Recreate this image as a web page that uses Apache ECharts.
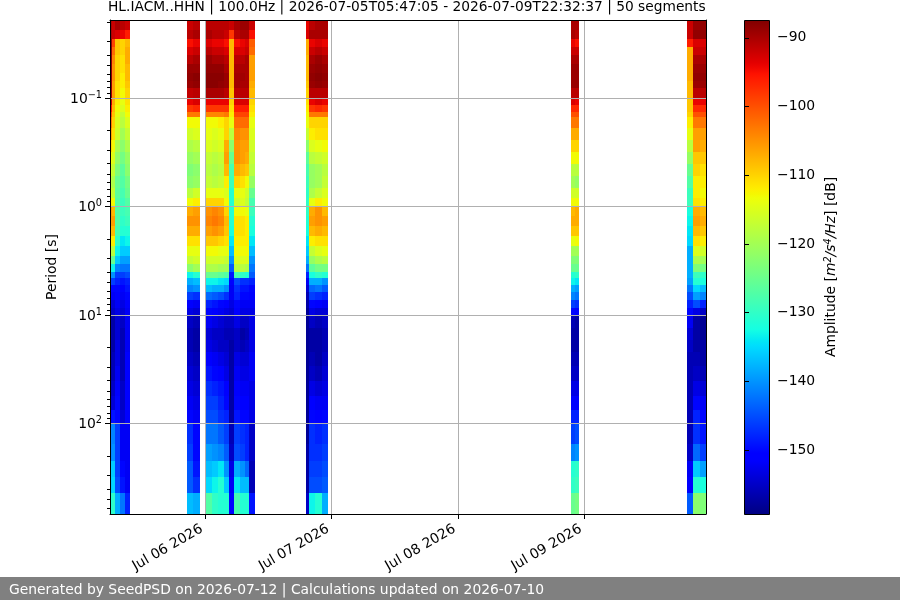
<!DOCTYPE html>
<html>
<head>
<meta charset="utf-8">
<style>html,body{margin:0;padding:0;background:#fff}#chart{width:900px;height:600px}</style>
<script src="https://cdn.jsdelivr.net/npm/echarts@6/dist/echarts.min.js"></script>
</head>
<body>
<div id="chart"></div>
<script>
// Spectrogram of probabilistic PSD segments for one seismic channel.
const titleText = 'HL.IACM..HHN | 100.0Hz | 2026-07-05T05:47:05 - 2026-07-09T22:32:37 | 50 segments';
const footerText = 'Generated by SeedPSD on 2026-07-12 | Calculations updated on 2026-07-10';
const timeMin = '2026-07-05T05:54:00Z';
const timeMax = '2026-07-09T23:07:00Z';
const periodMin = 0.0191;
const periodMax = 682;
const dbMin = -159.3;
const dbMax = -87.4;

const dayTicks = ['2026-07-06T00:00:00Z', '2026-07-07T00:00:00Z', '2026-07-08T00:00:00Z', '2026-07-09T00:00:00Z'];
const periodTicks = [0.1, 1, 10, 100];
const dbTicks = [-150, -140, -130, -120, -110, -100, -90];

// Period bin edges in seconds, shortest first (one more edge than there are bins).
const periodEdges = [
  0.0191, 0.0236, 0.0286, 0.0339, 0.0402, 0.0486, 0.0589, 0.0697, 0.0809, 0.1,
  0.116, 0.135, 0.150, 0.189, 0.244, 0.315, 0.406, 0.524, 0.675, 0.835,
  0.99, 1.22, 1.51, 1.87, 2.31, 2.86, 3.39, 4.02, 4.56, 5.29,
  6.14, 7.28, 8.62, 10.2, 13.2, 17.0, 21.9, 29.5, 40.6, 55.8,
  75.2, 100, 155, 222, 311, 437, 682
];

// Time span of each column, as start/end pairs (UTC, minutes precision).
const columnSpans = [
  ['2026-07-05T05:54', '2026-07-05T06:17'], ['2026-07-05T06:17', '2026-07-05T06:51'],
  ['2026-07-05T06:51', '2026-07-05T07:48'], ['2026-07-05T07:48', '2026-07-05T08:45'],
  ['2026-07-05T08:45', '2026-07-05T09:42'],
  ['2026-07-05T20:32', '2026-07-05T21:40'], ['2026-07-05T21:40', '2026-07-05T23:00'],
  ['2026-07-06T00:08', '2026-07-06T01:17'], ['2026-07-06T01:17', '2026-07-06T02:25'],
  ['2026-07-06T02:25', '2026-07-06T03:34'], ['2026-07-06T03:34', '2026-07-06T04:30'],
  ['2026-07-06T04:30', '2026-07-06T05:27'], ['2026-07-06T05:27', '2026-07-06T06:36'],
  ['2026-07-06T06:36', '2026-07-06T07:33'], ['2026-07-06T07:33', '2026-07-06T08:18'],
  ['2026-07-06T08:18', '2026-07-06T09:27'],
  ['2026-07-06T19:08', '2026-07-06T19:42'], ['2026-07-06T19:42', '2026-07-06T20:50'],
  ['2026-07-06T20:50', '2026-07-06T22:10'], ['2026-07-06T22:10', '2026-07-06T23:19'],
  ['2026-07-08T21:29', '2026-07-08T22:14'], ['2026-07-08T22:14', '2026-07-08T23:00'],
  ['2026-07-09T19:30', '2026-07-09T20:39'], ['2026-07-09T20:39', '2026-07-09T21:59'],
  ['2026-07-09T21:59', '2026-07-09T23:07']
];

// Amplitude in dB for each column, one value per period bin.
const amplitudes = [
  [-90,-90,-89,-89,-89,-89,-89,-89,-90,-92,-96,-100,-103,-106,-110,-113,-116,-118,-116,-112,-106,-106,-108,-112,-118,-125,-133,-140,-146,-150,-152,-154,-155,-157,-157,-157,-157,-157,-156,-155,-150,-141,-141,-136,-136,-131],
  [-92,-92,-99,-102,-104,-105,-105,-106,-106,-107,-108,-109,-110,-111,-113,-115,-117,-119,-117,-113,-108,-106,-108,-112,-118,-125,-133,-140,-146,-150,-152,-154,-155,-157,-157,-157,-156,-156,-155,-154,-149,-141,-140,-136,-135,-130],
  [-90,-93,-109,-109,-110,-110,-110,-111,-111,-112,-113,-114,-115,-116,-119,-121,-123,-125,-126,-127,-127,-127,-128,-130,-133,-136,-141,-146,-148,-150,-151,-152,-153,-154,-154,-153,-153,-152,-151,-150,-150,-146,-146,-146,-145,-138],
  [-91,-94,-110,-110,-111,-111,-112,-112,-113,-114,-115,-117,-118,-120,-122,-124,-126,-127,-128,-129,-129,-130,-131,-134,-136,-139,-142,-146,-149,-151,-152,-153,-154,-155,-156,-156,-156,-156,-155,-155,-154,-152,-152,-150,-149,-142],
  [-92,-96,-108,-107,-107,-108,-108,-109,-110,-111,-112,-113,-115,-117,-119,-121,-122,-124,-125,-127,-128,-129,-131,-133,-136,-139,-142,-145,-148,-149,-150,-151,-152,-152,-152,-152,-151,-151,-151,-151,-151,-152,-152,-152,-152,-148],

  [-92,-91,-95,-93,-91,-89,-88.5,-89,-91.5,-94,-98,-103,-113,-116,-119,-121,-123,-122,-118,-113,-107,-105,-107,-111,-114,-117,-122,-133,-138,-141,-146,-151,-153,-155,-156,-156,-155,-154,-153,-152,-150,-147,-146,-144,-144,-137],
  [-91,-90,-94,-92,-90,-89,-88,-88.5,-91,-93,-97,-103,-113,-115,-118,-120,-122,-121,-116,-112,-106,-105,-107,-111,-114,-116,-120,-131,-137,-140,-147,-152,-154,-156,-157,-157,-156,-155,-154,-153,-152,-150,-150,-149,-147,-138],

  [-91,-90,-93,-91,-89,-88.5,-88,-88,-90,-94,-98,-104,-113,-114,-115,-117,-118,-117,-114,-110,-105,-104,-106,-109,-113,-116,-119,-125,-133,-137,-143,-148,-150,-152,-154,-153,-151,-149,-147,-146,-145,-142,-139,-137,-135,-127],
  [-91,-91,-94,-92,-90,-88.5,-88,-88,-90,-94,-98,-104,-113,-115,-116,-118,-119,-118,-114,-110,-104,-103,-105,-109,-113,-116,-119,-125,-133,-138,-144,-149,-151,-153,-155,-154,-152,-150,-148,-146,-145,-142,-140,-136,-133,-130],
  [-91,-91,-94,-92,-90,-88.5,-88,-88.5,-90,-94,-98,-104,-112,-114,-115,-117,-118,-117,-114,-110,-105,-104,-106,-110,-114,-116,-120,-126,-134,-138,-145,-150,-152,-154,-155,-155,-153,-151,-149,-148,-147,-144,-141,-134,-131,-131],
  [-91,-92,-95,-93,-91,-90,-89,-89,-91,-94,-98,-103,-110,-110,-107,-106,-108,-112,-115,-113,-110,-108,-109,-111,-114,-117,-120,-127,-135,-140,-147,-151,-153,-155,-156,-155,-154,-153,-151,-150,-148,-146,-144,-140,-136,-131],
  [-92,-98,-108,-108,-108,-108,-108,-108,-109,-110,-111,-112,-114,-118,-122,-125,-128,-129,-131,-131,-131,-131,-132,-134,-137,-140,-144,-149,-151,-152,-152,-153,-154,-155,-156,-157,-157,-157,-157,-157,-157,-156,-155,-153,-152,-150],
  [-90,-91,-95,-93,-91,-90,-89.5,-89.5,-91,-93,-96,-99,-102,-104,-105,-105,-107,-110,-114,-116,-113,-111,-111,-112,-113,-115,-118,-128,-145,-147,-148,-150,-151,-153,-155,-155,-153,-152,-151,-150,-149,-146,-145,-138,-134,-128],
  [-89,-90,-94,-93,-91,-90,-89.5,-90,-91,-93,-96,-99,-102,-105,-106,-106,-108,-111,-114,-115,-113,-111,-111,-112,-113,-115,-118,-130,-147,-149,-150,-152,-153,-155,-157,-156,-154,-153,-152,-151,-150,-147,-146,-140,-137,-131],
  [-89,-90,-93,-92,-90,-90,-90,-90,-91,-93,-96,-99,-102,-105,-106,-107,-109,-113,-116,-117,-114,-112,-112,-112,-113,-115,-119,-131,-147,-149,-150,-152,-153,-155,-156,-155,-154,-153,-152,-151,-150,-148,-148,-143,-137,-131],
  [-92,-95,-101,-102,-106,-106,-106,-107,-108,-110,-111,-112,-114,-115,-116,-117,-118,-121,-125,-128,-129,-131,-132,-134,-137,-140,-142,-144,-148,-150,-151,-152,-153,-153,-153,-153,-152,-152,-153,-153,-153,-155,-155,-156,-156,-149],

  [-94,-93,-107,-107,-108,-108,-108,-109,-110,-111,-112,-113,-114,-117,-122,-126,-128,-129,-130,-130,-130,-131,-132,-134,-136,-138,-142,-148,-152,-154,-156,-157,-158,-158,-158,-158,-158,-158,-158,-158,-158,-158,-157,-157,-157,-155],
  [-91,-90,-94,-92,-90,-89,-88.5,-89,-91,-94,-98,-103,-110,-112,-115,-118,-121,-121,-119,-114,-107,-106,-108,-112,-117,-121,-126,-132,-138,-143,-146,-150,-153,-155,-157,-157,-156,-155,-153,-151,-150,-147,-147,-146,-145,-133],
  [-90,-90,-93,-91,-89,-88.5,-88,-88.5,-91,-93,-97,-103,-110,-111,-114,-117,-120,-120,-117,-112,-105,-105,-107,-111,-115,-119,-124,-130,-138,-142,-147,-151,-154,-156,-157,-157,-157,-156,-154,-152,-151,-148,-147,-146,-145,-131],
  [-90,-90,-94,-92,-90,-89,-88.5,-89,-91,-94,-98,-103,-110,-111,-113,-116,-118,-117,-115,-113,-108,-106,-108,-111,-114,-118,-124,-131,-140,-144,-148,-152,-154,-155,-156,-156,-155,-154,-153,-152,-150,-147,-146,-145,-144,-138],

  [-90,-90,-94,-92,-90,-89,-89,-89,-91,-93,-97,-100,-103,-107,-110,-113,-118,-120,-116,-113,-108,-107,-109,-114,-120,-123,-125,-131,-133,-138,-141,-146,-150,-156,-157,-157,-156,-155,-153,-151,-148,-146,-141,-131,-130,-125],
  [-90,-91,-95,-92,-90,-89,-89,-89,-91,-94,-97,-100,-103,-107,-110,-113,-118,-121,-116,-113,-107,-107,-109,-113,-120,-123,-125,-130,-134,-139,-142,-147,-151,-157,-157,-157,-156,-155,-153,-151,-148,-145,-140,-130,-129,-124],

  [-92,-92,-96,-107,-107,-107,-107,-108,-108,-109,-109,-110,-112,-114,-118,-121,-125,-127,-129,-129,-132,-133,-134,-135,-138,-138,-138,-138,-139,-142,-145,-148,-150,-152,-154,-155,-156,-156,-156,-156,-156,-156,-155,-152,-151,-144],
  [-89,-88.5,-93,-92,-90,-89,-88.5,-89,-91,-94,-97,-100,-103,-106,-106,-109,-110,-112,-112,-111,-107,-106,-108,-111,-115,-119,-123,-129,-131,-135,-139,-145,-153,-157,-157,-157,-156,-155,-153,-150,-148,-147,-143,-136,-131,-122],
  [-88.5,-88.5,-93,-92,-90,-89,-88.5,-89,-91,-94,-97,-100,-103,-106,-107,-109,-111,-112,-113,-112,-108,-107,-109,-112,-116,-120,-124,-130,-132,-137,-141,-148,-155,-158,-158,-157,-157,-156,-154,-152,-150,-149,-146,-139,-132,-123]
];

// Jet colormap, evaluated from its piecewise-linear channel definition.
const jetR = [[0, 0], [0.35, 0], [0.66, 1], [0.89, 1], [1, 0.5]];
const jetG = [[0, 0], [0.125, 0], [0.375, 1], [0.64, 1], [0.91, 0], [1, 0]];
const jetB = [[0, 0.5], [0.11, 1], [0.34, 1], [0.65, 0], [1, 0]];
function channel(table, t) {
  for (let i = 1; i < table.length; i++) {
    if (t <= table[i][0]) {
      const [a, va] = table[i - 1], [b, vb] = table[i];
      return va + (vb - va) * (t - a) / (b - a);
    }
  }
  return table[table.length - 1][1];
}
function jet(t) {
  const c = [jetR, jetG, jetB].map(tb => Math.round(255 * channel(tb, t)));
  return 'rgb(' + c.join(',') + ')';
}
const jetSteps = Array.from({ length: 129 }, (_, i) => i / 128);
const jetColors = jetSteps.map(jet);

const cells = [];
amplitudes.forEach((col, c) => {
  const t0 = Date.parse(columnSpans[c][0] + ':00Z');
  const t1 = Date.parse(columnSpans[c][1] + ':00Z');
  col.forEach((db, r) => cells.push([t0, t1, periodEdges[r], periodEdges[r + 1], db]));
});

const periodMinor = [];
for (let e = -2; e <= 2; e++) {
  for (let m = 2; m <= 9; m++) {
    const v = m * Math.pow(10, e);
    if (v > periodMin && v < periodMax) periodMinor.push(v);
  }
}

function renderCell(params, api) {
  const a = api.coord([api.value(0), api.value(2)]);
  const b = api.coord([api.value(1), api.value(3)]);
  const x = Math.round(a[0]), y = Math.round(a[1]);
  return {
    type: 'rect',
    shape: { x, y, width: Math.round(b[0]) - x, height: Math.round(b[1]) - y },
    style: { fill: api.visual('color'), stroke: null }
  };
}

function renderColorbar(params, api) {
  const a = api.coord([0, dbMax]);
  const b = api.coord([1, dbMin]);
  return {
    type: 'rect',
    shape: { x: Math.round(a[0]) + 0.5, y: Math.round(a[1]) + 0.5, width: Math.round(b[0] - a[0]), height: Math.round(b[1] - a[1]) },
    style: {
      stroke: '#000', lineWidth: 1,
      fill: {
        type: 'linear', x: 0, y: 0, x2: 0, y2: 1,
        colorStops: jetSteps.map((t, i) => ({ offset: 1 - t, color: jetColors[i] })).reverse()
      }
    }
  };
}

const baseFont = { fontFamily: 'DejaVu Sans', fontSize: 13.9, color: '#000' };
const gridLine = { show: true, lineStyle: { color: '#b0b0b0', width: 1 } };
const blackLine = { show: true, lineStyle: { color: '#000', width: 1 } };
const monthNames = ['Jan', 'Feb', 'Mar', 'Apr', 'May', 'Jun', 'Jul', 'Aug', 'Sep', 'Oct', 'Nov', 'Dec'];
const dayMs = dayTicks.map(d => Date.parse(d));
const minus = s => String(s).replace('-', '\u2212');

const option = {
  animation: false,
  backgroundColor: '#fff',
  title: {
    text: titleText, left: 108, top: 0, padding: 0,
    textStyle: { ...baseFont, fontSize: 13.78, fontWeight: 'normal' }
  },
  visualMap: {
    show: false, type: 'continuous', seriesIndex: 0, dimension: 4,
    min: dbMin, max: dbMax, inRange: { color: jetColors }
  },
  grid: [
    { left: 110, top: 20, width: 596, height: 494 },
    { left: 744, top: 20, width: 25, height: 494 }
  ],
  xAxis: [
    {
      type: 'value', gridIndex: 0, min: Date.parse(timeMin), max: Date.parse(timeMax), z: 5,
      axisLine: { ...blackLine, onZero: false },
      axisTick: { show: true, length: 5, lineStyle: { color: '#000' }, customValues: dayMs },
      splitLine: gridLine,
      axisLabel: {
        ...baseFont, rotate: 30, margin: 12, padding: [0, 4, 0, 0], customValues: dayMs, hideOverlap: false,
        formatter: v => {
          const d = new Date(v);
          return monthNames[d.getUTCMonth()] + ' ' + String(d.getUTCDate()).padStart(2, '0') + ' ' + d.getUTCFullYear();
        }
      }
    },
    {
      type: 'value', gridIndex: 0, position: 'top', min: Date.parse(timeMin), max: Date.parse(timeMax), z: 5,
      axisLine: { ...blackLine, onZero: false }, axisTick: { show: false }, axisLabel: { show: false }, splitLine: { show: false }
    },
    { type: 'value', gridIndex: 1, min: 0, max: 1, show: false }
  ],
  yAxis: [
    {
      type: 'log', gridIndex: 0, inverse: true, min: periodMin, max: periodMax, logBase: 10, z: 5,
      name: 'Period [s]', nameLocation: 'middle', nameGap: 50, nameRotate: 90,
      nameTextStyle: { ...baseFont },
      axisLine: { ...blackLine, onZero: false },
      axisTick: { show: true, length: 5, lineStyle: { color: '#000' }, customValues: periodTicks },
      splitLine: gridLine,
      axisLabel: {
        ...baseFont, margin: 8, customValues: periodTicks,
        formatter: v => '{b|10}{s|' + minus(Math.round(Math.log10(v))) + '}',
        rich: {
          b: { ...baseFont, verticalAlign: 'bottom' },
          s: { fontFamily: 'DejaVu Sans', fontSize: 9.7, color: '#000', verticalAlign: 'top', padding: [0, 0, 6, 0] }
        }
      }
    },
    {
      type: 'log', gridIndex: 0, inverse: true, min: periodMin, max: periodMax, logBase: 10, z: 5, position: 'left',
      axisLine: { show: false }, splitLine: { show: false }, axisLabel: { show: false },
      axisTick: { show: true, length: 3, lineStyle: { color: '#000' }, customValues: periodMinor }
    },
    {
      type: 'log', gridIndex: 0, inverse: true, min: periodMin, max: periodMax, logBase: 10, z: 5, position: 'right',
      axisLine: { ...blackLine, onZero: false }, axisTick: { show: false }, axisLabel: { show: false }, splitLine: { show: false }
    },
    {
      type: 'value', gridIndex: 1, position: 'right', min: dbMin, max: dbMax, z: 5,
      name: 'Amplitude [{i|m}{s|2}{i|/s}{s|4}{i|/Hz}] [dB]', nameLocation: 'middle', nameGap: 54, nameRotate: 90,
      nameTextStyle: {
        ...baseFont,
        rich: {
          i: { ...baseFont, fontStyle: 'italic' },
          s: { fontFamily: 'DejaVu Sans', fontStyle: 'italic', fontSize: 9.7, color: '#000', verticalAlign: 'top', padding: [0, 0, 6, 0] }
        }
      },
      axisLine: { show: false }, splitLine: { show: false },
      axisTick: { show: true, length: 5, lineStyle: { color: '#000' }, customValues: dbTicks },
      axisLabel: { ...baseFont, margin: 8, padding: [4, 0, 0, 0], customValues: dbTicks, formatter: v => minus(v) }
    }
  ],
  series: [
    {
      type: 'custom', coordinateSystem: 'cartesian2d', xAxisIndex: 0, yAxisIndex: 0, z: 2, clip: true,
      encode: { x: [0, 1], y: [2, 3] }, renderItem: renderCell, data: cells, silent: true
    },
    {
      type: 'custom', coordinateSystem: 'cartesian2d', xAxisIndex: 2, yAxisIndex: 3, z: 2,
      encode: { x: 0, y: 1 }, renderItem: renderColorbar, data: [[0, dbMin]], silent: true
    }
  ],
  graphic: [
    { type: 'rect', z: 10, shape: { x: 0, y: 577, width: 900, height: 23 }, style: { fill: '#808080' } },
    {
      type: 'text', z: 11, x: 9, y: 590,
      style: { text: footerText, fill: '#fff', font: '13.87px "DejaVu Sans"', textVerticalAlign: 'middle', verticalAlign: 'middle' }
    }
  ]
};

const chart = echarts.init(document.getElementById('chart'), null, { renderer: 'canvas' });
chart.setOption(option);
</script>
</body>
</html>
